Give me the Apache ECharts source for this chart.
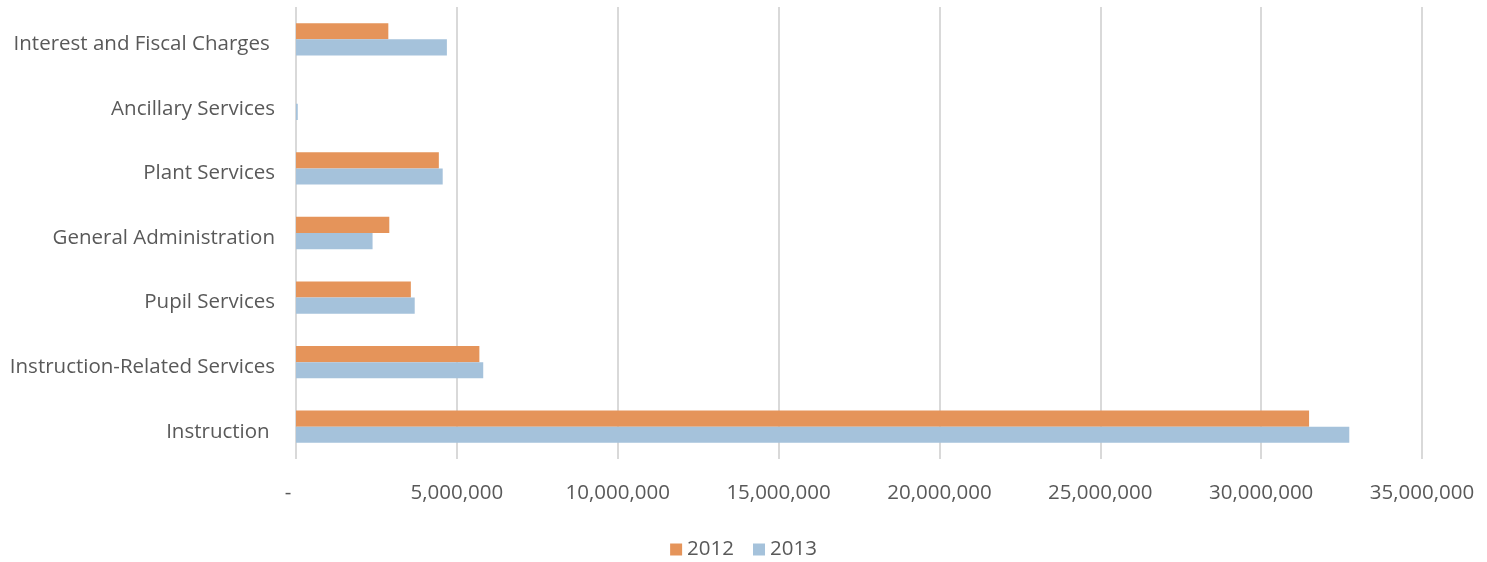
<!DOCTYPE html>
<html>
<head>
<meta charset="utf-8">
<script src="https://cdn.jsdelivr.net/npm/echarts@6/dist/echarts.min.js"></script>
<style>
  html, body { margin: 0; padding: 0; background: #ffffff; }
  #chart { width: 1487px; height: 562px; }
</style>
</head>
<body>
<div id="chart"></div>
<script>
// categories listed bottom to top, like the picture
const categories = [
  'Instruction ',
  'Instruction-Related Services',
  'Pupil Services',
  'General Administration',
  'Plant Services',
  'Ancillary Services',
  'Interest and Fiscal Charges '
];
const values2012 = [31490000, 5700000, 3570000, 2900000, 4440000, 0, 2870000];
const values2013 = [32740000, 5820000, 3690000, 2380000, 4560000, 55000, 4690000];

const textColor = '#595959';
const fontFamily = '"Open Sans", "DejaVu Sans", sans-serif';

const chart = echarts.init(document.getElementById('chart'), null, { renderer: 'canvas' });

const option = {
  backgroundColor: '#ffffff',
  animation: false,
  grid: { left: 296, right: 65, top: 7, bottom: 103, containLabel: false },
  legend: {
    bottom: -3, left: 'center',
    data: ['2012', '2013'],
    icon: 'rect', itemWidth: 12, itemHeight: 12, itemGap: 19,
    textStyle: { color: textColor, fontSize: 20.5, fontFamily: fontFamily }
  },
  xAxis: {
    type: 'value', min: 0, max: 35000000, interval: 5000000,
    axisLine: { show: false }, axisTick: { show: false },
    splitLine: { lineStyle: { color: '#d9d9d9', width: 2 } },
    axisLabel: {
      color: textColor, fontSize: 20.5, fontFamily: fontFamily, margin: 24,
      // zero is shown as a dash, like accounting format
      formatter: function (v) { return v === 0 ? '-   ' : v.toLocaleString('en-US'); }
    }
  },
  yAxis: {
    type: 'category', data: categories,
    axisLine: { show: false }, axisTick: { show: false },
    // labels sit a few px below the bar pair centre, as in the picture
    axisLabel: { color: textColor, fontSize: 20.5, fontFamily: fontFamily, margin: 21,
      verticalAlign: 'top', lineHeight: 10 }
  },
  series: [
    { name: '2012', type: 'bar', data: values2012, barGap: '0%', barCategoryGap: '50%',
      itemStyle: { color: '#e5945a' } },
    { name: '2013', type: 'bar', data: values2013, barGap: '0%', barCategoryGap: '50%',
      itemStyle: { color: '#a5c2db' } }
  ]
};
chart.setOption(option);
</script>
</body>
</html>
